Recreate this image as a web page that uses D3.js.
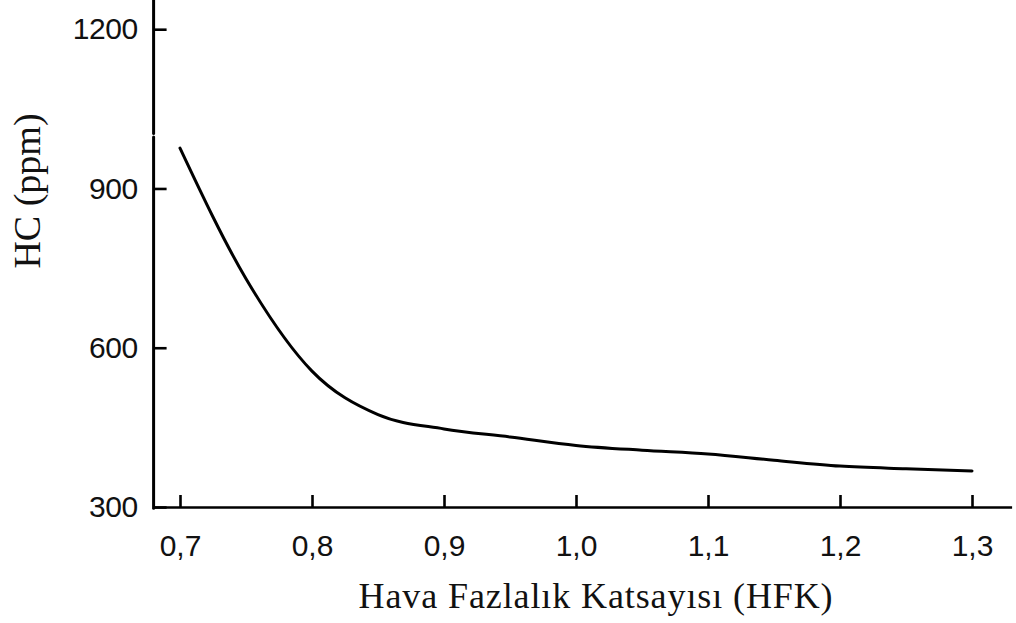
<!DOCTYPE html>
<html>
<head>
<meta charset="utf-8">
<script src="https://cdn.jsdelivr.net/npm/d3@7"></script>
<style>
  body { margin: 0; background: #fff; }
  svg { display: block; }
</style>
</head>
<body>
<script>
// HC emission vs air excess coefficient
const hfk = [0.70, 0.75, 0.80, 0.85, 0.90, 0.95, 1.00, 1.05, 1.10, 1.15, 1.20, 1.25, 1.30];
const hc = [976, 730, 556, 474, 447, 432, 416, 407, 400, 388, 377, 372, 368];
const xTicks = [0.7, 0.8, 0.9, 1.0, 1.1, 1.2, 1.3];
const yTicks = [300, 600, 900, 1200];
const yBreak = [997, 1006];

const width = 1016, height = 623;

const svg = d3.select("body")
    .append("svg")
    .attr("width", width)
    .attr("height", height);

const x = d3.scaleLinear().domain([0.68, 1.33]).range([153.6, 1011.6]);
const y = d3.scaleLinear().domain([300, 1255]).range([507, 0]);

// x axis
const xAxis = svg.append("g")
    .attr("transform", "translate(0," + y(300) + ")")
    .call(d3.axisBottom(x)
        .tickValues(xTicks)
        .tickSize(-12)
        .tickSizeOuter(0)
        .tickPadding(28)
        .tickFormat(d => d3.format(".1f")(d).replace(".", ",")));

xAxis.select(".domain").attr("stroke", "#000").attr("stroke-width", 2.6);
xAxis.selectAll(".tick line").attr("stroke", "#000").attr("stroke-width", 2.6);
xAxis.selectAll(".tick text")
    .attr("font-family", "'Liberation Sans', Arial, sans-serif")
    .attr("font-size", "30px")
    .attr("fill", "#111");

// y axis (with a break near 1000)
const yAxis = svg.append("g")
    .attr("transform", "translate(" + x(0.68) + ",0)")
    .call(d3.axisLeft(y)
        .tickValues(yTicks)
        .tickSize(-13)
        .tickSizeOuter(0)
        .tickPadding(16)
        .tickFormat(d3.format("d")));

yAxis.select(".domain").remove();
yAxis.selectAll(".tick line").attr("stroke", "#000").attr("stroke-width", 2.6);
yAxis.selectAll(".tick text")
    .attr("font-family", "'Liberation Sans', Arial, sans-serif")
    .attr("font-size", "30px")
    .attr("letter-spacing", "-0.5px")
    .attr("fill", "#111");

const segs = [[300, yBreak[0]], [yBreak[1], 1255]];
yAxis.selectAll("line.seg")
    .data(segs)
    .enter().append("line")
    .attr("class", "seg")
    .attr("x1", 0).attr("x2", 0)
    .attr("y1", d => y(d[0]) + 1.3)
    .attr("y2", d => y(d[1]))
    .attr("stroke", "#000")
    .attr("stroke-width", 3)
    .attr("stroke-linecap", "round");

// curve
const line = d3.line()
    .x((d, i) => x(hfk[i]))
    .y(d => y(d))
    .curve(d3.curveMonotoneX);

svg.append("path")
    .datum(hc)
    .attr("d", line)
    .attr("fill", "none")
    .attr("stroke", "#000")
    .attr("stroke-width", 3)
    .attr("stroke-linecap", "round");

// titles
svg.append("text")
    .attr("transform", "translate(40," + 191 + ") rotate(-90)")
    .attr("text-anchor", "middle")
    .attr("font-family", "'Liberation Serif', 'Times New Roman', serif")
    .attr("font-size", "38px")
    .attr("fill", "#111")
    .text("HC (ppm)");

svg.append("text")
    .attr("x", 596)
    .attr("y", 608)
    .attr("text-anchor", "middle")
    .attr("font-family", "'Liberation Serif', 'Times New Roman', serif")
    .attr("font-size", "36px")
    .attr("letter-spacing", "0.9px")
    .attr("fill", "#111")
    .text("Hava Fazlalık Katsayısı (HFK)");
</script>
</body>
</html>
